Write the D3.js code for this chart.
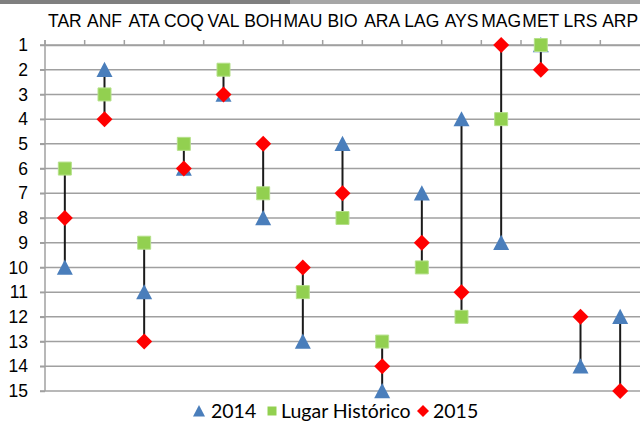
<!DOCTYPE html>
<html>
<head>
<meta charset="utf-8">
<script src="https://cdn.jsdelivr.net/npm/d3@7"></script>
<style>
  html, body { margin: 0; padding: 0; background: #fff; }
  svg { display: block; font-family: Lato, 'Open Sans', sans-serif; }
</style>
</head>
<body>
<div id="chart"></div>
<script>
const regions = ['TAR', 'ANF', 'ATA', 'COQ', 'VAL', 'BOH', 'MAU', 'BIO', 'ARA', 'LAG', 'AYS', 'MAG', 'MET', 'LRS', 'ARP'];
const rank2014 = [10, 2, 11, 6, 3, 8, 13, 5, 15, 7, 4, 9, 1, 14, 12];
const rankHistoric = [6, 3, 9, 5, 2, 7, 11, 8, 13, 10, 12, 4, 1, null, null];
const rank2015 = [8, 4, 13, 6, 3, 5, 10, 7, 14, 9, 11, 1, 2, 12, 15];
const rankTicks = d3.range(1, 16);

const width = 640;
const height = 421;

const series = [
  { name: '2014', values: rank2014, shape: 'triangle', color: '#4a7ebb' },
  { name: 'Lugar Histórico', values: rankHistoric, shape: 'square', color: '#92d050' },
  { name: '2015', values: rank2015, shape: 'diamond', color: '#ff0000' }
];

function markerPath(shape, size) {
  const h = size / 2;
  if (shape === 'triangle') return `M0,${-h}L${h},${h * 0.9}L${-h},${h * 0.9}Z`;
  if (shape === 'square') return `M${-h},${-h}H${h}V${h}H${-h}Z`;
  return `M0,${-h}L${h},0L0,${h}L${-h},0Z`;
}

const svg = d3.select('#chart').append('svg')
  .attr('width', width)
  .attr('height', height);

// top border strip
svg.append('rect').attr('x', 0).attr('y', 0).attr('width', width).attr('height', 4).attr('fill', '#a6a6a6');
svg.append('rect').attr('x', 0).attr('y', 0).attr('width', 290).attr('height', 4).attr('fill', '#7f7f7f');

const x = d3.scaleBand()
  .domain(regions)
  .range([45, 640]);

const y = d3.scaleLinear()
  .domain([1, 15])
  .range([45, 391]);

// horizontal grid lines
svg.append('g')
  .selectAll('line')
  .data(rankTicks)
  .join('line')
  .attr('x1', 40)
  .attr('x2', width)
  .attr('y1', d => y(d))
  .attr('y2', d => y(d))
  .attr('stroke', '#a0a0a0')
  .attr('stroke-width', 1.5);

// top category axis
const topAxis = svg.append('g')
  .attr('transform', `translate(0,${y(1)})`)
  .call(d3.axisTop(x).tickSize(0).tickPadding(18));
topAxis.select('.domain').attr('stroke', '#a0a0a0').attr('stroke-width', 1.5);
topAxis.selectAll('text').attr('font-size', 17.5).attr('fill', '#000');

svg.append('g')
  .selectAll('line')
  .data(regions)
  .join('line')
  .attr('x1', d => x(d))
  .attr('x2', d => x(d))
  .attr('y1', y(1) - 5)
  .attr('y2', y(1))
  .attr('stroke', '#a0a0a0')
  .attr('stroke-width', 1.5);

// left rank axis
const leftAxis = svg.append('g')
  .attr('transform', `translate(45,0)`)
  .call(d3.axisLeft(y).tickValues(rankTicks).tickFormat(d3.format('d')).tickSize(5).tickPadding(12));
leftAxis.select('.domain').remove();
leftAxis.selectAll('line').attr('stroke', '#a0a0a0').attr('stroke-width', 1.5);
leftAxis.selectAll('text').attr('font-size', 17.5).attr('fill', '#000');

svg.append('line')
  .attr('x1', 45).attr('x2', 45)
  .attr('y1', y(1) - 5).attr('y2', y(15))
  .attr('stroke', '#a0a0a0')
  .attr('stroke-width', 1.5);

// high-low lines
const ranges = regions.map((region, i) => {
  const vals = series.map(s => s.values[i]).filter(v => v != null);
  return { region, lo: d3.min(vals), hi: d3.max(vals) };
});

svg.append('g')
  .selectAll('line')
  .data(ranges)
  .join('line')
  .attr('x1', d => x(d.region) + x.bandwidth() / 2)
  .attr('x2', d => x(d.region) + x.bandwidth() / 2)
  .attr('y1', d => y(d.lo))
  .attr('y2', d => y(d.hi))
  .attr('stroke', '#1a1a1a')
  .attr('stroke-width', 2);

// markers
const sizes = { triangle: 16, square: 13, diamond: 16 };
series.forEach(s => {
  const points = regions
    .map((region, i) => ({ region, value: s.values[i] }))
    .filter(d => d.value != null);

  svg.append('g')
    .selectAll('path')
    .data(points)
    .join('path')
    .attr('transform', d => `translate(${x(d.region) + x.bandwidth() / 2},${y(d.value)})`)
    .attr('d', markerPath(s.shape, sizes[s.shape]))
    .attr('fill', s.color)
    .attr('stroke', s.shape === 'square' ? '#b5e08a' : 'none')
    .attr('stroke-width', 1);
});

// legend
const legendItems = [
  { s: series[0], x: 199, tx: 211 },
  { s: series[1], x: 272, tx: 281 },
  { s: series[2], x: 423, tx: 433 }
];
const legend = svg.append('g').attr('transform', 'translate(0,411)');
legendItems.forEach(item => {
  legend.append('path')
    .attr('transform', `translate(${item.x},0)`)
    .attr('d', markerPath(item.s.shape, item.s.shape === 'square' ? 9 : 12))
    .attr('fill', item.s.color);
  legend.append('text')
    .attr('x', item.tx)
    .attr('dy', '0.36em')
    .attr('font-size', 19.5)
    .attr('fill', '#000')
    .text(item.s.name);
});
</script>
</body>
</html>
